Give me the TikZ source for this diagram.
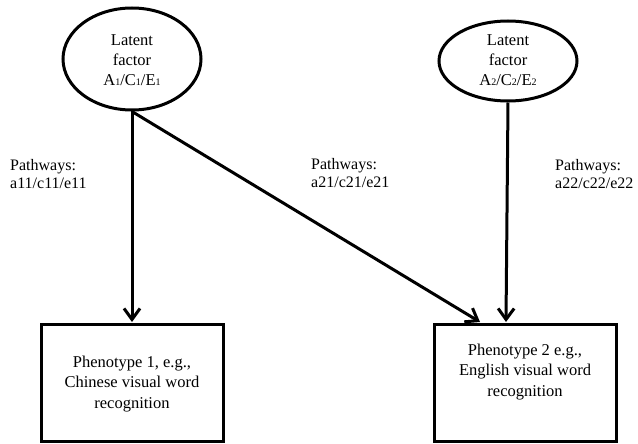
\documentclass[tikz,border=0pt]{standalone}
\usepackage{fontspec}
\setmainfont{Liberation Serif}
\usetikzlibrary{arrows.meta,shapes.geometric}
\newcommand{\lsub}[1]{{\fontsize{10}{10}\selectfont #1}}
\begin{document}
\begin{tikzpicture}[x=1pt,y=-1pt,
  lat/.style={draw,line width=3pt,ellipse,inner sep=0pt},
  lattext/.style={align=center,inner sep=0pt,font=\fontsize{16.5}{20}\selectfont},
  pheno/.style={draw,line width=3pt,inner sep=0pt},
  phenotext/.style={align=center,inner sep=0pt,font=\fontsize{16.5}{20.5}\selectfont},
  pathway/.style={line width=3pt,-{Straight Barb[length=11pt,width=16pt,line width=3pt]}},
  lab/.style={anchor=base west,align=left,inner sep=0pt,font=\fontsize{16}{18}\selectfont}]
\useasboundingbox (0,0) rectangle (638,444);
\node[lat,minimum width=138pt,minimum height=102pt] (L1) at (132,59) {};
\node[lattext] (L1t) at (132,60) {Latent\\factor\\A\lsub{1}/C\lsub{1}/E\lsub{1}};
\node[lat,minimum width=138pt,minimum height=80pt] (L2) at (508,61) {};
\node[lattext] (L2t) at (508,60) {Latent\\factor\\A\lsub{2}/C\lsub{2}/E\lsub{2}};
\node[pheno,minimum width=182pt,minimum height=117pt] (P1) at (132,382.5) {};
\node[phenotext] (P1t) at (132,384) {Phenotype 1, e.g.,\\Chinese visual word\\recognition};
\node[pheno,minimum width=182pt,minimum height=117pt] (P2) at (525,382.5) {};
\node[phenotext] (P2t) at (525,372) {Phenotype 2 e.g.,\\English visual word\\recognition};
\coordinate (P1a) at (132,322);
\coordinate (P2a) at (480,322);
\coordinate (P2b) at (506,322);
\draw[pathway] (L1.south) -- (P1a);
\draw[pathway] (L1.south) -- (P2a);
\draw[pathway] (L2.south) -- (P2b);
\node[lab] (t1) at (10,188) {Pathways:\\a11/c11/e11};
\node[lab] (t2) at (311,187) {Pathways:\\a21/c21/e21};
\node[lab] (t3) at (555,188) {Pathways:\\a22/c22/e22};
\end{tikzpicture}
\end{document}
